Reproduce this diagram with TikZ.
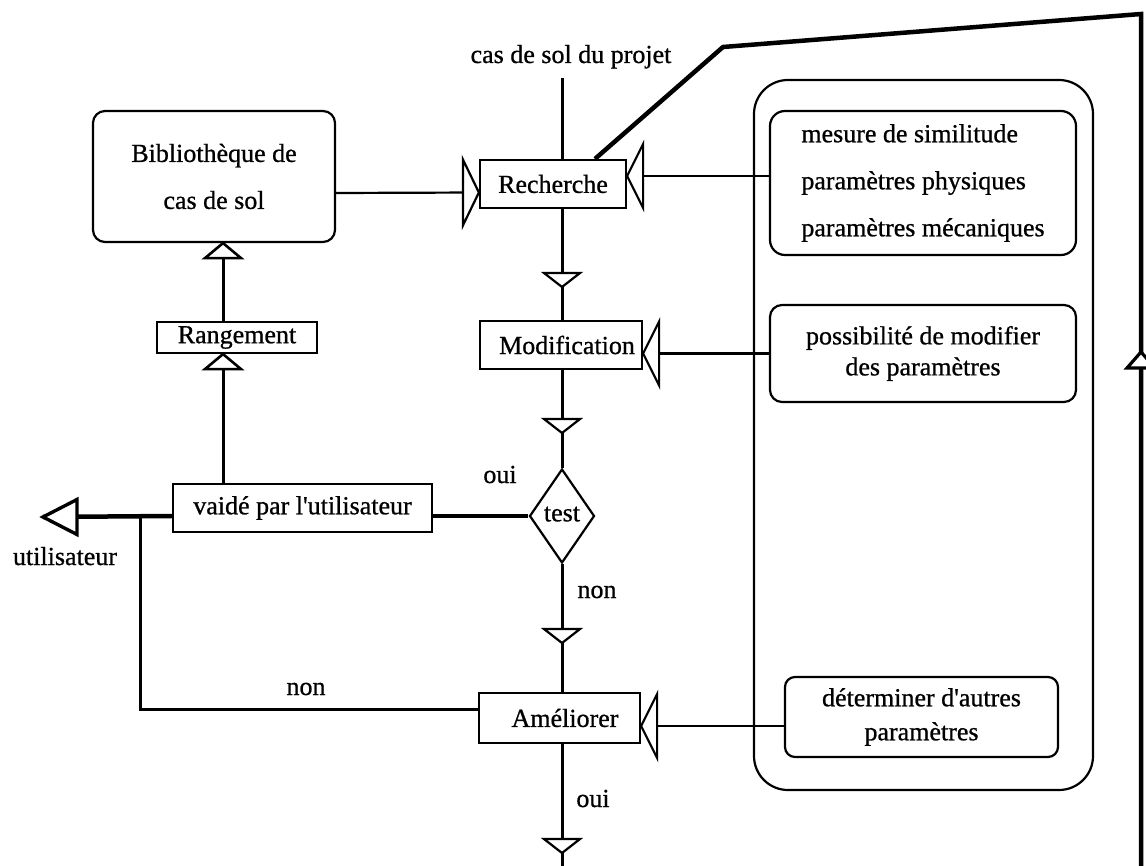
\documentclass[tikz,border=0pt]{standalone}
\usepackage{fontspec}
\setmainfont{Liberation Serif}[FakeBold=0.8]
\usetikzlibrary{shapes.geometric}
\tikzset{
  pics/tri/.style args={#1/#2/#3}{code={
    \path[draw, fill=white, line width=#3pt, line join=miter]
      (0,0) -- (-#1,-#2) -- (-#1,#2) -- cycle;}},
}
\begin{document}
\begin{tikzpicture}[x=1pt,y=-1pt,
  every node/.style={font=\fontsize{26}{31}\selectfont, inner sep=0pt},
  procbox/.style={draw, line width=2.2pt},
  roundbox/.style={draw, line width=2.2pt, rounded corners=#1},
  link/.style={line width=2.2pt},
  flow/.style={line width=3pt},
  heavy/.style={line width=4.5pt, line join=miter},
  mid/.style={line width=3.6pt},
  lbl/.style={anchor=base},
]
\useasboundingbox (0,0) rectangle (1146,866);

% process boxes on the main column
\node[procbox, minimum width=146pt, minimum height=48pt] (rech) at (553,184) {Recherche};
\node[procbox, minimum width=162pt, minimum height=48pt] (mod) at (561,345) {\hspace*{12pt}Modification};
\node[procbox, minimum width=161pt, minimum height=50pt] (amel) at (559.5,718) {\hspace*{11pt}Améliorer};
\node[draw, diamond, line width=2.2pt, minimum width=65pt, minimum height=94pt] (test) at (562,516) {\raisebox{4pt}{test}};

% left column
\node[roundbox=12pt, minimum width=242pt, minimum height=131pt, align=center,
      font=\fontsize{26}{47}\selectfont] (biblio) at (214,176.5) {Bibliothèque de\\cas de sol};
\node[procbox, minimum width=160pt, minimum height=31pt] (rang) at (237,337.5) {Rangement};
\node[procbox, minimum width=259pt, minimum height=48pt] (vaide) at (302.5,508) {vaidé par l\textquotesingle utilisateur};

% right panel with its parameter boxes
\node[roundbox=34pt, minimum width=339pt, minimum height=710pt] (panel) at (923.5,435) {};
\node[roundbox=15pt, minimum width=306pt, minimum height=144pt, align=left,
      font=\fontsize{26}{47}\selectfont] (sim) at (923,183)
      {mesure de similitude\\paramètres physiques\\paramètres mécaniques};
\node[roundbox=12pt, minimum width=306pt, minimum height=97pt, align=center,
      font=\fontsize{26}{31}\selectfont] (modp) at (923,353.5)
      {possibilité de modifier\\des paramètres};
\node[roundbox=10pt, minimum width=273pt, minimum height=80pt, align=center,
      font=\fontsize{26}{34}\selectfont] (autres) at (921.5,717)
      {déterminer d\textquotesingle autres\\paramètres};

% labels
\node[lbl] (projet) at (571,63) {cas de sol du projet};
\node[lbl] (oui1) at (500,483) {oui};
\node[lbl] (non1) at (597,598) {non};
\node[lbl] (non2) at (306,695) {non};
\node[lbl] (oui2) at (593,807) {oui};
\node[lbl] (user) at (65,565) {utilisateur};

% main column
\coordinate (top) at (562,78);
\coordinate (bottom) at (562,866);
\draw[flow] (top) -- (top |- rech.north);
\draw[flow] (rech.south -| top) -- (mod.north -| top);
\draw[flow] (mod.south -| top) -- (test.north);
\draw[flow] (test.south) -- (amel.north -| top);
\draw[flow] (amel.south -| top) -- (bottom);
\pic[rotate=-90] at (562,287) {tri=14/18/2.2};
\pic[rotate=-90] at (562,433) {tri=14/18/2.2};
\pic[rotate=-90] at (562,643) {tri=14/18/2.2};
\pic[rotate=-90] at (562,853) {tri=14/18/2.2};

% library to search
\draw[link] ([yshift=-16.5pt]biblio.east) -- ([yshift=-8.5pt]rech.west);
\pic at ([yshift=-8.5pt]rech.west) {tri=16/33/2.2};

% parameter boxes feeding the process boxes
\draw[link] ([yshift=7pt]sim.west) -- ([yshift=8pt]rech.east);
\pic[rotate=180] at ([yshift=8pt]rech.east) {tri=16/32/2.2};
\draw[link] (modp.west) -- (modp.west -| mod.east);
\pic[rotate=180] at (modp.west -| mod.east) {tri=16/32/2.2};
\draw[link] ([yshift=-9pt]autres.west) -- ([yshift=-9pt]autres.west -| amel.east);
\pic[rotate=180] at ([yshift=-9pt]autres.west -| amel.east) {tri=16/32/2.2};

% validation and storage
\coordinate (rx) at (223,0);
\draw[flow] (vaide.north -| rx) -- (rang.south -| rx);
\pic[rotate=90] at (rang.south -| rx) {tri=15/18/2.6};
\draw[flow] (rang.north -| rx) -- (biblio.south -| rx);
\pic[rotate=90] at (biblio.south -| rx) {tri=15/18/2.6};

% test outcome towards the user
\coordinate (uapex) at (43,517);
\coordinate (junc) at (140,517);
\draw[mid] (test.west) -- (test.west -| vaide.east);
\draw[heavy] (test.west -| vaide.west) -- (uapex);
\pic[rotate=180] at (uapex) {tri=34/17.5/3.4};
\draw[flow] ([yshift=9pt]amel.west) -| (junc);

% feedback line on the right
\coordinate (bend) at (723,47);
\coordinate (corner) at (1141,14);
\coordinate (foot) at (1141,866);
\draw[heavy] ([xshift=42pt]rech.north) -- (bend) -- (corner) -- (foot);
\pic[rotate=90] at (1141,352) {tri=16/14/3.2};
\end{tikzpicture}
\end{document}
